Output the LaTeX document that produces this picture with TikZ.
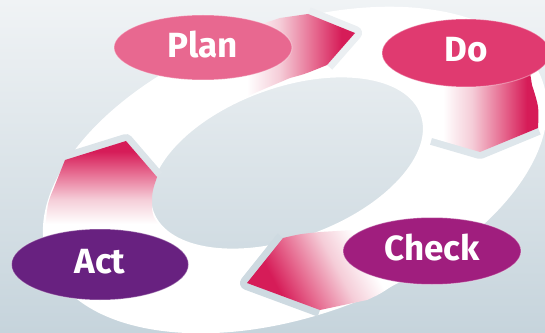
\documentclass[tikz,border=0pt]{standalone}
\usepackage{fontspec}
\setmainfont{Fira Sans}
\usetikzlibrary{shapes.geometric}
\definecolor{bgtop}{RGB}{240,243,245}
\definecolor{bgbot}{RGB}{198,212,220}
\definecolor{pdeep}{RGB}{214,28,88}
\definecolor{pmid}{RGB}{230,105,143}
\definecolor{ppale}{RGB}{245,205,216}
\definecolor{cplan}{RGB}{232,104,144}
\definecolor{cdo}{RGB}{224,58,112}
\definecolor{ccheck}{RGB}{160,30,126}
\definecolor{cact}{RGB}{104,33,128}
\pgfdeclarehorizontalshading{arrowsh}{100bp}{color(0bp)=(white); color(35bp)=(white); color(47bp)=(ppale); color(60bp)=(pmid); color(70bp)=(pdeep); color(100bp)=(pdeep)}
\tikzset{
  stage/.style={ellipse, inner sep=0pt, text=white, text depth=7pt,
    font=\bfseries\fontsize{35}{35}\selectfont,
    draw=white, draw opacity=0.35, line width=1pt},
  headgap/.style={line width=14pt, line join=round, line cap=butt},
  arrowbody/.style={shading=arrowsh}
}
\begin{document}
\begin{tikzpicture}[x=1pt,y=1pt]
\useasboundingbox (0,0) rectangle (545,332);
\shade[top color=bgtop, bottom color=bgbot] (0,0) rectangle (545,332);
% white ring
\begin{scope}[shift={(295,162)}, rotate=20]
  \fill[white, even odd rule] (0,0) ellipse [x radius=263pt, y radius=145pt]
    (-5.1,9.3) ellipse [x radius=142pt, y radius=75pt];
\end{scope}
% gaps around arrow heads
\draw[headgap, draw=bgtop!88!bgbot] (308,318) -- (355,299) -- (327,267);
\draw[headgap, draw=bgtop!58!bgbot] (432,194) -- (480,180) -- (538,204);
\draw[headgap, draw=bgtop!20!bgbot] (283,94) -- (247,49) -- (320,22);
\draw[headgap, draw=bgtop!53!bgbot] (65,172) -- (126,191) -- (157,155);
% arrow Plan -> Do
\path[arrowbody] (240,292) -- (250,304) -- (280,314) -- (308,318) -- (355,299)
  -- (327,267) .. controls (305,258) .. (290,254) -- (250,237) -- (225,227)
  -- (220,257) -- cycle;
% arrow Do -> Check
\path[arrowbody] (425,272) -- (420,252) .. controls (419,235) .. (423,212)
  -- (432,194) -- (480,180) -- (538,204) .. controls (539,225) .. (532,247)
  -- (528,272) -- cycle;
% arrow Check -> Act
\path[arrowbody, shading angle=208] (247,49) -- (283,94) .. controls (300,98) .. (320,100)
  -- (370,103) -- (405,90) -- (410,56) -- (395,48) .. controls (380,38) .. (367,32)
  -- (320,22) -- cycle;
% arrow Act -> Plan
\path[arrowbody, shading angle=90] (65,172) -- (126,191) -- (157,155)
  .. controls (152,140) .. (152,125) .. controls (153,115) .. (160,106)
  -- (160,88) -- (45,87) -- (46,112) .. controls (48,130) .. (53,142) -- cycle;
% stages
\node[stage, fill=cplan, minimum width=178pt, minimum height=65pt] (plan) at (203,284.5) {Plan};
\node[stage, fill=cdo, minimum width=168pt, minimum height=68pt] (do) at (466,279) {Do};
\node[stage, fill=ccheck, minimum width=178pt, minimum height=67pt] (check) at (432,81) {Check};
\node[stage, fill=cact, minimum width=177pt, minimum height=71pt] (act) at (100,67.5) {Act};
\end{tikzpicture}
\end{document}
